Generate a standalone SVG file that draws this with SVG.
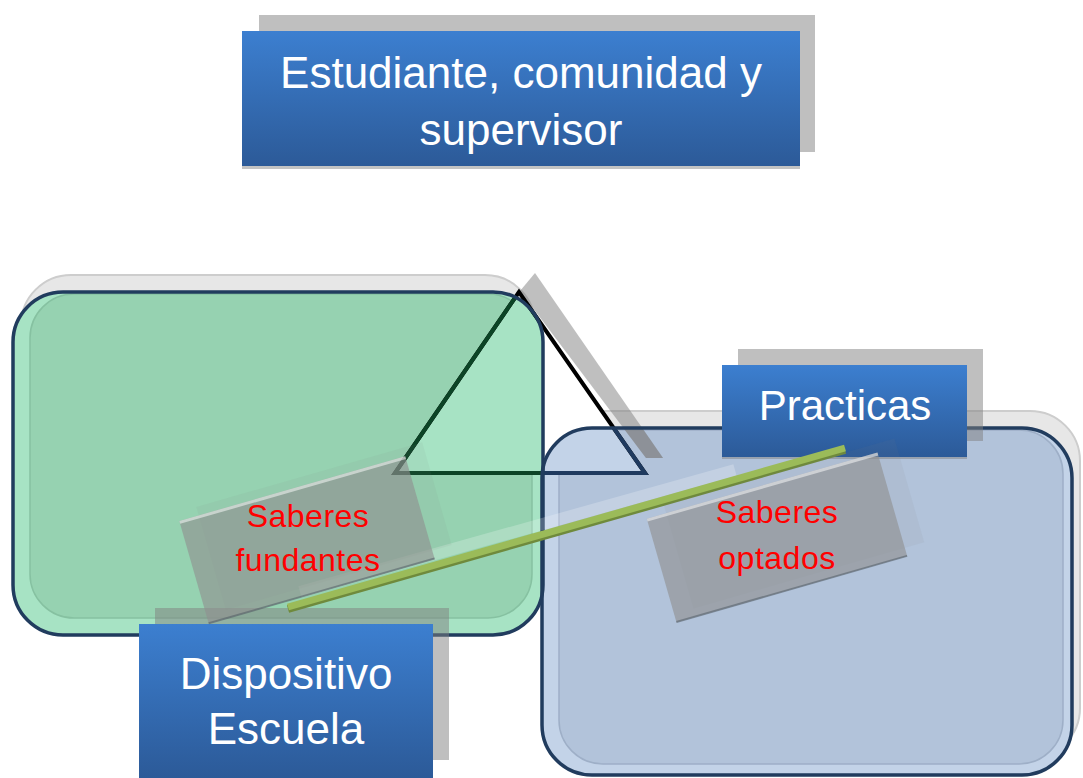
<svg xmlns="http://www.w3.org/2000/svg" width="1083" height="778" viewBox="0 0 1083 778">
<defs>
  <linearGradient id="boxGrad" x1="0" y1="0" x2="0" y2="1">
    <stop offset="0" stop-color="#3c7fd0"/>
    <stop offset="1" stop-color="#2c5a98"/>
  </linearGradient>
  <clipPath id="leftClip"><rect x="13" y="292" width="530" height="343" rx="50"/></clipPath>
  <clipPath id="rightClip"><rect x="542" y="428" width="530" height="347" rx="50"/></clipPath>
</defs>
<style>
  .bigshadow { fill:#e7e7e7; stroke:#cdcdcd; stroke-width:2 }
  .shadow { fill:#7f7f7f; fill-opacity:0.5 }
  .box { fill:url(#boxGrad) }
  .boxedge { fill:#7a7a7a; fill-opacity:0.45 }
  .navy { fill:none; stroke:#213c5e; stroke-width:3.5 }
  .lbl { font-family:"Liberation Sans", Arial, sans-serif; fill:#ffffff; text-anchor:middle }
  .red { font-family:"Liberation Sans", Arial, sans-serif; fill:#ff0000; text-anchor:middle; font-size:32px; letter-spacing:0.5px }
  .saber { fill:#8f8f8f; fill-opacity:0.62 }
  .ghost { fill:#808080; fill-opacity:0.08 }
  .hl { stroke:#ffffff; stroke-opacity:0.5; stroke-width:3 }
  .dk { stroke:#4a5560; stroke-opacity:0.5; stroke-width:2 }
  .tri { fill:none; stroke-width:4 }
</style>

<!-- big region shadows -->
<rect class="bigshadow" x="21" y="275" width="514" height="343" rx="50"/>
<rect class="bigshadow" x="550" y="411" width="530" height="347" rx="50"/>

<!-- left region -->
<g id="region-escuela">
  <rect x="13" y="292" width="530" height="343" rx="50" fill="#a7e3c4"/>
  <rect x="30" y="294" width="502" height="324" rx="44" fill="#96d2b1" stroke="#86c1a1" stroke-width="1.5"/>
</g>

<!-- right region -->
<g id="region-practicas">
  <rect x="542" y="428" width="530" height="347" rx="50" fill="#c3d3e8"/>
  <rect x="559" y="430" width="504" height="334" rx="44" fill="#b2c3da" stroke="#9eafc7" stroke-width="1.5"/>
</g>

<!-- triangle -->
<g id="triangle">
  <polygon points="520,291 535,273 663,458 646,458" class="shadow"/>
  <polygon points="519,292 395,473 645,473" fill="#ffffff"/>
  <polygon points="519,292 395,473 645,473" fill="#a7e3c4" clip-path="url(#leftClip)"/>
  <polygon points="519,292 395,473 645,473" fill="#c3d3e8" clip-path="url(#rightClip)"/>
  <polygon points="520,291 535,273 663,458 646,458" fill="#7f7f7f" fill-opacity="0.45" clip-path="url(#rightClip)"/>
  <polygon class="tri" points="519,292 395,473 645,473" stroke="#000000"/>
  <polygon class="tri" points="519,292 395,473 645,473" stroke="#0c4426" clip-path="url(#leftClip)"/>
  <polygon class="tri" points="519,292 395,473 645,473" stroke="#1f3a5f" clip-path="url(#rightClip)"/>
</g>

<!-- region outlines -->
<rect class="navy" x="13" y="292" width="530" height="343" rx="50"/>
<rect class="navy" x="542" y="428" width="530" height="347" rx="50"/>

<!-- top node -->
<g id="node-estudiante">
  <rect class="shadow" x="259" y="15" width="556" height="137"/>
  <rect class="boxedge" x="242" y="165" width="558" height="4"/>
  <rect class="box" x="242" y="31" width="558" height="135"/>
  <text class="lbl" x="521" y="88" font-size="44">Estudiante, comunidad y</text>
  <text class="lbl" x="521" y="145" font-size="44">supervisor</text>
</g>

<!-- Dispositivo Escuela -->
<g id="node-dispositivo">
  <rect class="shadow" x="155" y="608" width="294" height="152"/>
  <rect class="box" x="139" y="624" width="294" height="154"/>
  <text class="lbl" x="286" y="689" font-size="44">Dispositivo</text>
  <text class="lbl" x="286" y="744" font-size="44">Escuela</text>
</g>

<!-- Practicas -->
<g id="node-practicas">
  <rect class="shadow" x="738" y="349" width="245" height="92"/>
  <rect class="boxedge" x="722" y="456" width="245" height="3"/>
  <rect class="box" x="722" y="365" width="245" height="92"/>
  <text class="lbl" x="845" y="420" font-size="42">Practicas</text>
</g>

<!-- connectors -->
<g id="connectors">
  <line x1="300" y1="592" x2="735" y2="470" stroke="#ffffff" stroke-opacity="0.22" stroke-width="12"/>
  <line x1="288" y1="609" x2="845" y2="450" stroke="#6f8a3c" stroke-width="8"/>
  <line x1="288" y1="607" x2="845" y2="448" stroke="#9bbb59" stroke-width="7"/>
</g>

<!-- Saberes fundantes -->
<g id="node-saberes-fundantes">
  <rect class="ghost" x="206.5" y="472.5" width="235" height="107" transform="rotate(-16 324 526)"/>
  <g transform="rotate(-16 307 540)">
    <rect class="saber" x="189.5" y="486.5" width="235" height="107"/>
    <line class="hl" x1="189.5" y1="488" x2="424.5" y2="488"/>
    <line class="dk" x1="189.5" y1="593" x2="424.5" y2="593"/>
  </g>
  <text class="red" x="308" y="527">Saberes</text>
  <text class="red" x="308" y="571">fundantes</text>
</g>

<!-- Saberes optados -->
<g id="node-saberes-optados">
  <rect class="ghost" x="674" y="469.5" width="240" height="108" transform="rotate(-16 794 523.5)"/>
  <g transform="rotate(-16 777 537.5)">
    <rect class="saber" x="657" y="483.5" width="240" height="108"/>
    <line class="hl" x1="657" y1="485" x2="897" y2="485"/>
    <line class="dk" x1="657" y1="591" x2="897" y2="591"/>
  </g>
  <text class="red" x="777" y="523">Saberes</text>
  <text class="red" x="777" y="569">optados</text>
</g>
</svg>
